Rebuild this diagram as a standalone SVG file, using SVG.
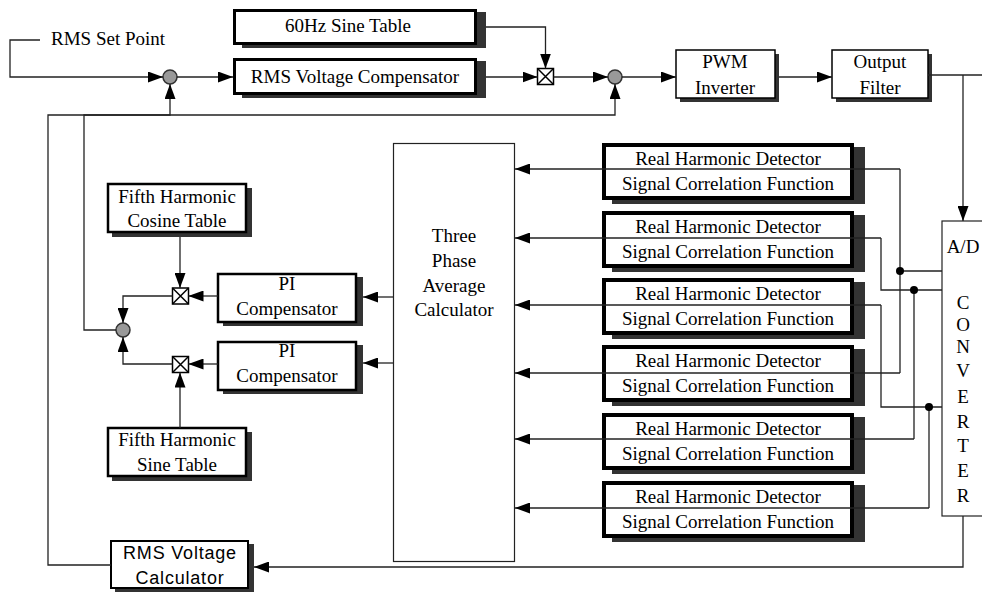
<svg xmlns="http://www.w3.org/2000/svg" width="982" height="592" viewBox="0 0 982 592">
<defs>
<marker id="a" markerWidth="15" markerHeight="11" refX="15" refY="5.5" orient="auto" markerUnits="userSpaceOnUse"><path d="M0,0 L15,5.5 L0,11 z" fill="#000"/></marker>
<style>
text{font-family:"Liberation Serif","Times New Roman",serif;font-size:19px;fill:#000;text-anchor:middle}
.sans{font-family:"Liberation Sans",Arial,sans-serif;font-size:18px;letter-spacing:0.8px}
.lt{text-anchor:start}
.sh{fill:#333}
.b4{fill:#fff;stroke:#000;stroke-width:4}
.b3{fill:#fff;stroke:#000;stroke-width:3}
.b2{fill:#fff;stroke:#000;stroke-width:2.5}
.b1{fill:#fff;stroke:#000;stroke-width:1.5}
.b0{fill:#fff;stroke:#222;stroke-width:1.2}
.sum{fill:#999;stroke:#333;stroke-width:1.5}
.mul{fill:#fff;stroke:#000;stroke-width:1.5}
.c{fill:none;stroke:#222;stroke-width:1.3}
.ar{marker-end:url(#a)}
.dot{fill:#000}
</style>
</defs>

<g id="rms-set-point"><text class="lt" x="51" y="45">RMS Set Point</text></g>

<g id="sine-table-60hz">
<rect class="sh" x="242" y="12" width="244" height="36"/>
<rect class="b3" x="234.5" y="10.5" width="241" height="33"/>
<text x="348" y="32">60Hz Sine Table</text>
</g>
<g id="rms-voltage-compensator">
<rect class="sh" x="242" y="61" width="244" height="37"/>
<rect class="b3" x="234.5" y="59.5" width="241" height="34"/>
<text x="355" y="83">RMS Voltage Compensator</text>
</g>
<g id="sum1"><circle class="sum" cx="170" cy="77" r="7"/></g>
<g id="mult-top"><rect class="mul" x="537.5" y="68.5" width="16" height="16"/><path class="mul" d="M537.5,68.5 L553.5,84.5 M553.5,68.5 L537.5,84.5"/></g>
<g id="sum2"><circle class="sum" cx="615" cy="77" r="7"/></g>
<g id="pwm-inverter">
<rect class="sh" x="680" y="54" width="99" height="48"/>
<rect class="b1" x="676" y="50" width="99" height="48"/>
<text x="725" y="68">PWM</text><text x="725" y="94">Inverter</text>
</g>
<g id="output-filter">
<rect class="sh" x="836" y="54" width="96" height="48"/>
<rect class="b1" x="832" y="50" width="96" height="48"/>
<text x="880" y="68">Output</text><text x="880" y="94">Filter</text>
</g>

<g id="fifth-cosine-table">
<rect class="sh" x="112" y="188" width="140" height="49"/>
<rect class="b2" x="108" y="184" width="138" height="48"/>
<text x="177" y="203">Fifth Harmonic</text><text x="177" y="227">Cosine Table</text>
</g>
<g id="fifth-sine-table">
<rect class="sh" x="112" y="432" width="140" height="49"/>
<rect class="b2" x="108" y="428" width="138" height="48"/>
<text x="177" y="446">Fifth Harmonic</text><text x="177" y="471">Sine Table</text>
</g>
<g id="pi-compensator-1">
<rect class="sh" x="223" y="277" width="140" height="49"/>
<rect class="b2" x="218" y="274" width="138" height="48"/>
<text x="287" y="290">PI</text><text x="287" y="315">Compensator</text>
</g>
<g id="pi-compensator-2">
<rect class="sh" x="223" y="345" width="140" height="49"/>
<rect class="b2" x="218" y="342" width="138" height="48"/>
<text x="287" y="357">PI</text><text x="287" y="382">Compensator</text>
</g>
<g id="mult1"><rect class="mul" x="172.5" y="288" width="16" height="16"/><path class="mul" d="M172.5,288 L188.5,304 M188.5,288 L172.5,304"/></g>
<g id="mult2"><rect class="mul" x="172.5" y="356.5" width="16" height="16"/><path class="mul" d="M172.5,356.5 L188.5,372.5 M188.5,356.5 L172.5,372.5"/></g>
<g id="sum3"><circle class="sum" cx="123" cy="330" r="7"/></g>

<g id="three-phase-average">
<rect class="b0" x="393.5" y="143.5" width="121" height="418"/>
<text x="454" y="242">Three</text><text x="454" y="267">Phase</text><text x="454" y="292">Average</text><text x="454" y="316">Calculator</text>
</g>

<g id="detector-1">
<rect class="sh" x="612" y="147" width="253" height="57"/>
<rect class="b4" x="604" y="145" width="248" height="53"/>
<text x="728" y="165">Real Harmonic Detector</text><text x="728" y="190">Signal Correlation Function</text>
</g>
<g id="detector-2">
<rect class="sh" x="612" y="215" width="253" height="57"/>
<rect class="b4" x="604" y="213" width="248" height="53"/>
<text x="728" y="233">Real Harmonic Detector</text><text x="728" y="258">Signal Correlation Function</text>
</g>
<g id="detector-3">
<rect class="sh" x="612" y="282" width="253" height="57"/>
<rect class="b4" x="604" y="280" width="248" height="53"/>
<text x="728" y="300">Real Harmonic Detector</text><text x="728" y="325">Signal Correlation Function</text>
</g>
<g id="detector-4">
<rect class="sh" x="612" y="349" width="253" height="57"/>
<rect class="b4" x="604" y="347" width="248" height="53"/>
<text x="728" y="367">Real Harmonic Detector</text><text x="728" y="392">Signal Correlation Function</text>
</g>
<g id="detector-5">
<rect class="sh" x="612" y="417" width="253" height="57"/>
<rect class="b4" x="604" y="415" width="248" height="53"/>
<text x="728" y="435">Real Harmonic Detector</text><text x="728" y="460">Signal Correlation Function</text>
</g>
<g id="detector-6">
<rect class="sh" x="612" y="485" width="253" height="57"/>
<rect class="b4" x="604" y="483" width="248" height="53"/>
<text x="728" y="503">Real Harmonic Detector</text><text x="728" y="528">Signal Correlation Function</text>
</g>

<g id="ad-converter">
<rect class="b0" x="942" y="221" width="45" height="295"/>
<text x="963" y="253">A/D</text>
<text x="963" y="309">C</text><text x="963" y="331">O</text><text x="963" y="353">N</text><text x="963" y="377">V</text><text x="963" y="403">E</text><text x="963" y="428">R</text><text x="963" y="452">T</text><text x="963" y="477">E</text><text x="963" y="502">R</text>
</g>

<g id="rms-voltage-calculator">
<rect class="sh" x="115" y="544" width="139" height="48"/>
<rect class="b1" x="111" y="541" width="137" height="47" style="stroke-width:2"/>
<text class="sans" x="180" y="559">RMS Voltage</text><text class="sans" x="180" y="584">Calculator</text>
</g>

<g id="connectors">
<path class="c ar" d="M40,40 H10 V77 H163"/>
<path class="c ar" d="M177,77 H233"/>
<path class="c ar" d="M486,27 H545.5 V68.5"/>
<path class="c ar" d="M486,77 H537.5"/>
<path class="c ar" d="M553.5,77 H608"/>
<path class="c ar" d="M622,77 H676"/>
<path class="c ar" d="M779,77 H832"/>
<path class="c" d="M928,75 H982"/>
<path class="c ar" d="M963,75 V221"/>
<path class="c ar" d="M111,565 H48 V115 H170 V84"/>
<path class="c ar" d="M116,330 H84 V115 H615 V84"/>
<path class="c ar" d="M963,516 V567 H254"/>
<path class="c ar" d="M180,237 V288"/>
<path class="c ar" d="M180,428 V372.5"/>
<path class="c ar" d="M218,296 H188.5"/>
<path class="c ar" d="M218,364 H188.5"/>
<path class="c ar" d="M172.5,296 H123 V323"/>
<path class="c ar" d="M172.5,364 H123 V337"/>
<path class="c ar" d="M393.5,297 H363"/>
<path class="c ar" d="M393.5,363 H363"/>
<path class="c ar" d="M900,169 H515"/>
<path class="c ar" d="M881,238 H515"/>
<path class="c ar" d="M881,305 H515"/>
<path class="c ar" d="M900,373 H515"/>
<path class="c ar" d="M914,439 H515"/>
<path class="c ar" d="M929,508 H515"/>
<path class="c" d="M900,169 V373 M900,271 H942"/>
<path class="c" d="M881,238 V290 H942 M914,290 V439"/>
<path class="c" d="M881,305 V407 H942 M929,407 V508"/>
<circle class="dot" cx="900" cy="271" r="4"/>
<circle class="dot" cx="914" cy="290" r="4"/>
<circle class="dot" cx="929" cy="407" r="4"/>
</g>
</svg>
